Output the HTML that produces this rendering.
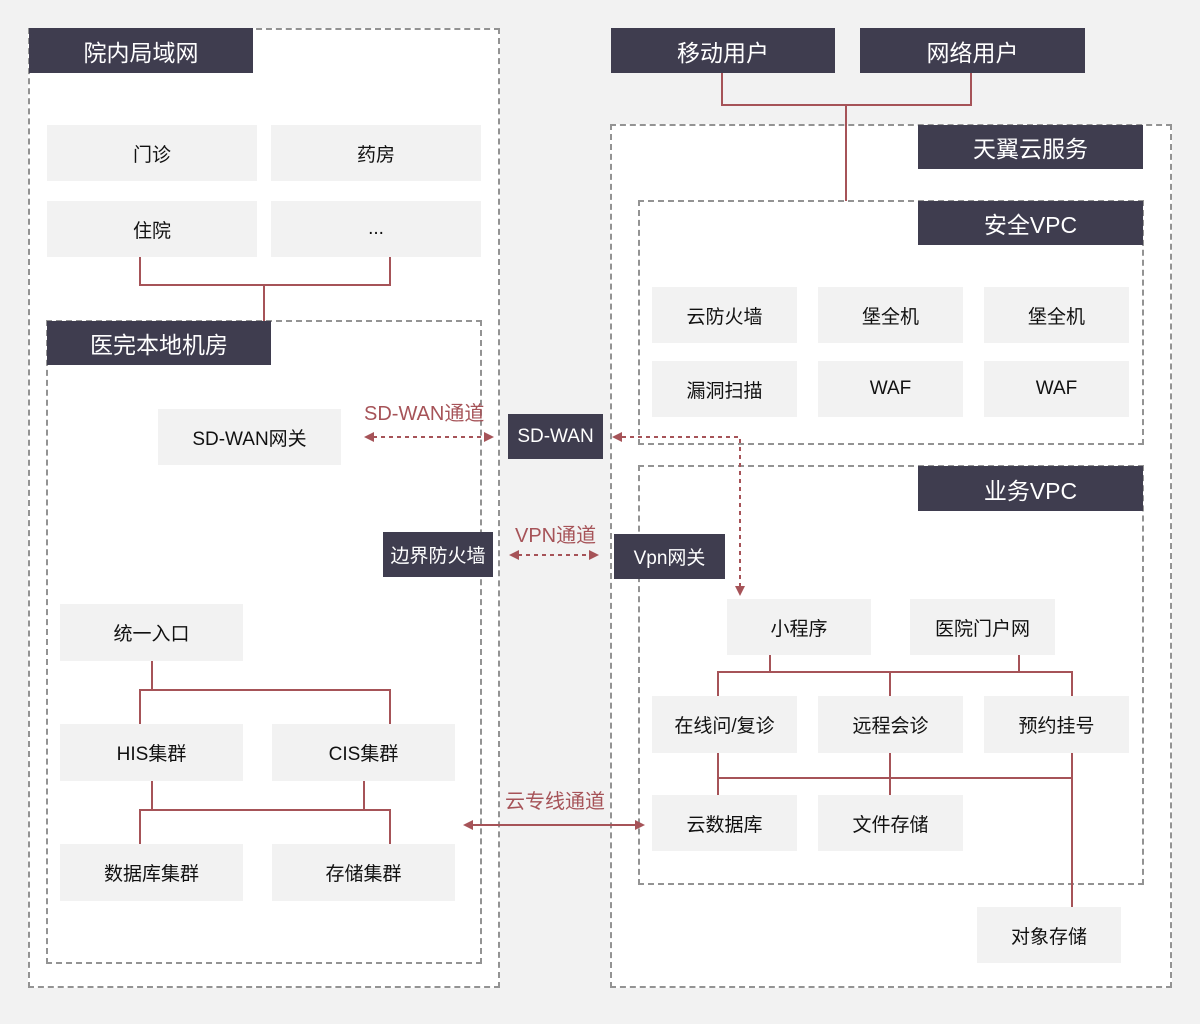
<!DOCTYPE html>
<html><head><meta charset="utf-8"><style>
body{margin:0;width:1200px;height:1024px;background:#f2f2f2;position:relative;overflow:hidden;font-family:"Liberation Sans","Noto Sans CJK SC",sans-serif}
.p{position:absolute;background:#fff;border:2px dashed #939393;box-sizing:border-box}
.d{position:absolute;background:#3f3d4f;color:#fff;display:flex;align-items:center;justify-content:center;font-size:23px}
.g{position:absolute;background:#f2f2f2;color:#111;display:flex;align-items:center;justify-content:center;font-size:19px}
.l{position:absolute;color:#a65358;font-size:20px}
svg{position:absolute;left:0;top:0}
</style></head><body>
<div class="p" style="left:28px;top:28px;width:472px;height:960px"></div>
<div class="p" style="left:46px;top:320px;width:436px;height:644px"></div>
<div class="p" style="left:610px;top:124px;width:562px;height:864px"></div>
<div class="p" style="left:638px;top:200px;width:506px;height:245px"></div>
<div class="p" style="left:638px;top:465px;width:506px;height:420px"></div>

<div class="d" style="left:29px;top:28px;width:224px;height:45px">院内局域网</div>
<div class="d" style="left:47px;top:321px;width:224px;height:44px">医完本地机房</div>
<div class="d" style="left:611px;top:28px;width:224px;height:45px">移动用户</div>
<div class="d" style="left:860px;top:28px;width:225px;height:45px">网络用户</div>
<div class="d" style="left:918px;top:125px;width:225px;height:44px">天翼云服务</div>
<div class="d" style="left:918px;top:201px;width:225px;height:44px">安全VPC</div>
<div class="d" style="left:918px;top:466px;width:225px;height:45px">业务VPC</div>
<div class="d" style="left:383px;top:532px;width:110px;height:45px;font-size:19px">边界防火墙</div>
<div class="d" style="left:508px;top:414px;width:95px;height:45px;font-size:19px">SD-WAN</div>
<div class="d" style="left:614px;top:534px;width:111px;height:45px;font-size:19px">Vpn网关</div>

<div class="g" style="left:47px;top:125px;width:210px;height:56px">门诊</div>
<div class="g" style="left:271px;top:125px;width:210px;height:56px">药房</div>
<div class="g" style="left:47px;top:201px;width:210px;height:56px">住院</div>
<div class="g" style="left:271px;top:201px;width:210px;height:56px">...</div>
<div class="g" style="left:158px;top:409px;width:183px;height:56px">SD-WAN网关</div>
<div class="g" style="left:60px;top:604px;width:183px;height:57px">统一入口</div>
<div class="g" style="left:60px;top:724px;width:183px;height:57px">HIS集群</div>
<div class="g" style="left:272px;top:724px;width:183px;height:57px">CIS集群</div>
<div class="g" style="left:60px;top:844px;width:183px;height:57px">数据库集群</div>
<div class="g" style="left:272px;top:844px;width:183px;height:57px">存储集群</div>

<div class="g" style="left:652px;top:287px;width:145px;height:56px">云防火墙</div>
<div class="g" style="left:818px;top:287px;width:145px;height:56px">堡全机</div>
<div class="g" style="left:984px;top:287px;width:145px;height:56px">堡全机</div>
<div class="g" style="left:652px;top:361px;width:145px;height:56px">漏洞扫描</div>
<div class="g" style="left:818px;top:361px;width:145px;height:56px">WAF</div>
<div class="g" style="left:984px;top:361px;width:145px;height:56px">WAF</div>

<div class="g" style="left:727px;top:599px;width:144px;height:56px">小程序</div>
<div class="g" style="left:910px;top:599px;width:145px;height:56px">医院门户网</div>
<div class="g" style="left:652px;top:696px;width:145px;height:57px">在线问/复诊</div>
<div class="g" style="left:818px;top:696px;width:145px;height:57px">远程会诊</div>
<div class="g" style="left:984px;top:696px;width:145px;height:57px">预约挂号</div>
<div class="g" style="left:652px;top:795px;width:145px;height:56px">云数据库</div>
<div class="g" style="left:818px;top:795px;width:145px;height:56px">文件存储</div>
<div class="g" style="left:977px;top:907px;width:144px;height:56px">对象存储</div>

<div class="l" style="left:364px;top:397px">SD-WAN通道</div>
<div class="l" style="left:515px;top:519px">VPN通道</div>
<div class="l" style="left:505px;top:785px">云专线通道</div>

<svg width="1200" height="1024">
<g stroke="#a65358" stroke-width="2" fill="none">
<path d="M140 257V285H390V257M264 285V321"/>
<path d="M722 73V105H971V73M846 105V201"/>
<path d="M152 661V690M140 724V690H390V724M152 781V810M364 781V810M140 844V810H390V844"/>
<path d="M770 655V672M1019 655V672M718 696V672H1072V696M718 753V795M890 696V672M890 753V795M718 778H1072M1072 753V907"/>
<path d="M473 825H635"/>
<g stroke-dasharray="4 4"><path d="M373 437H485M518 555H590M622 437H740V587"/></g>
</g>
<g fill="#a65358">
<path d="M364 437l10-5v10zM494 437l-10-5v10zM509 555l10-5v10zM599 555l-10-5v10zM612 437l10-5v10zM740 596l-5-10h10zM463 825l10-5v10zM645 825l-10-5v10z"/>
</g>
</svg>
</body></html>
